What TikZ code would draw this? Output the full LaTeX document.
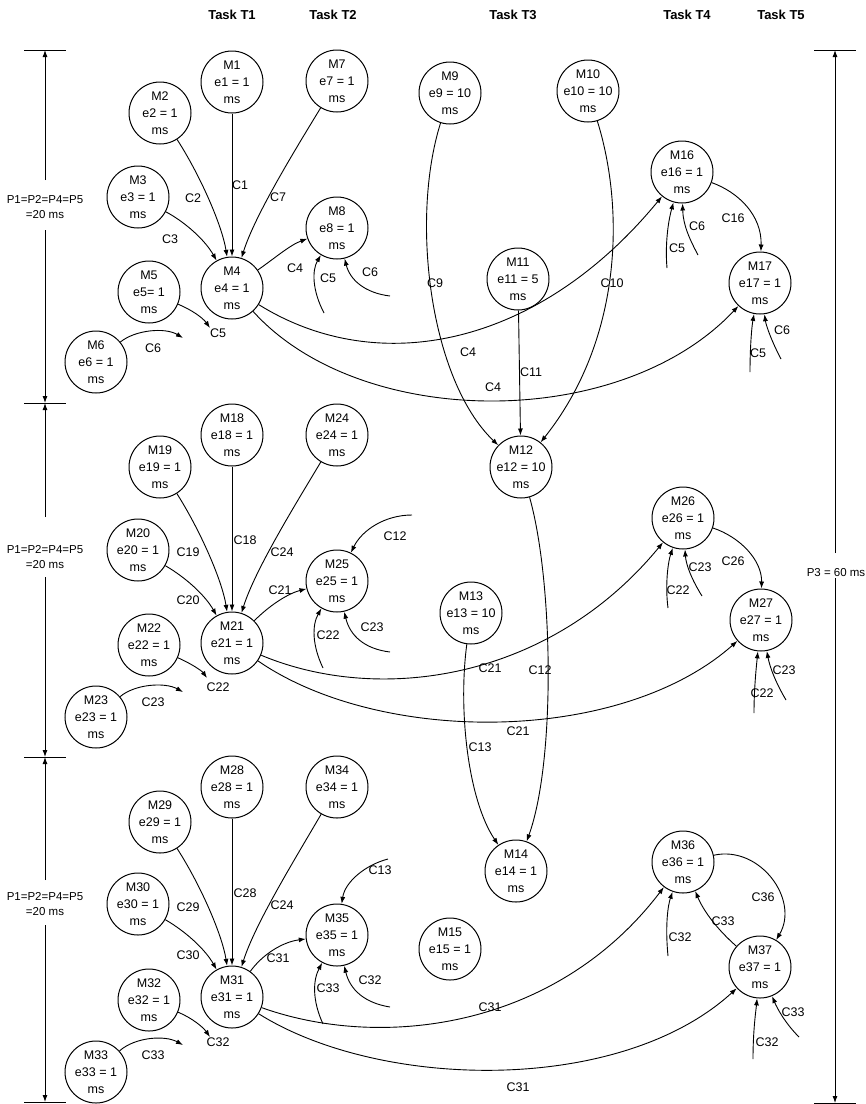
\documentclass[tikz,border=0pt]{standalone}
\usepackage{fontspec}
\setmainfont{Liberation Sans}
\usetikzlibrary{arrows.meta}
\newcommand\mnd[4]{\node[mc] (#1) at (#2) {};\node[mt] (#1t) at (#1) {#3\\#4\\ms};}
\begin{document}
\begin{tikzpicture}[x=1pt,y=-1pt,
  mc/.style={circle,draw,line width=1pt,minimum size=62pt,inner sep=0pt},
  mt/.style={align=center,font=\fontsize{12.5}{17}\selectfont,inner sep=0pt},
  lb/.style={font=\fontsize{12.5}{14}\selectfont,inner sep=0pt},
  dl/.style={font=\fontsize{11.5}{15}\selectfont,inner sep=0pt,align=center},
  tk/.style={font=\bfseries\fontsize{13}{15}\selectfont,inner sep=0pt},
  arr/.style={line width=0.9pt,-{Latex[length=7pt,width=5pt]}},
  ln/.style={line width=0.9pt}]
\useasboundingbox (0,0) rectangle (866,1104);

% task headers
\node[tk] (t1) at (232,15) {Task T1};
\node[tk] (t2) at (333,15) {Task T2};
\node[tk] (t3) at (513,15) {Task T3};
\node[tk] (t4) at (687,15) {Task T4};
\node[tk] (t5) at (781,15) {Task T5};

% nodes
\mnd{m1}{232,82}{M1}{e1 = 1}
\mnd{m2}{160,113}{M2}{e2 = 1}
\mnd{m3}{138,197}{M3}{e3 = 1}
\mnd{m4}{232,288}{M4}{e4 = 1}
\mnd{m5}{149,292}{M5}{e5= 1}
\mnd{m6}{96,362}{M6}{e6 = 1}
\mnd{m7}{337,81}{M7}{e7 = 1}
\mnd{m8}{337,228}{M8}{e8 = 1}
\mnd{m9}{450,93}{M9}{e9 = 10}
\mnd{m10}{588,91}{M10}{e10 = 10}
\mnd{m11}{518,279}{M11}{e11 = 5}
\mnd{m12}{521,467}{M12}{e12 = 10}
\mnd{m13}{471,613}{M13}{e13 = 10}
\mnd{m14}{516,871}{M14}{e14 = 1}
\mnd{m15}{450,949}{M15}{e15 = 1}
\mnd{m16}{682,172}{M16}{e16 = 1}
\mnd{m17}{760,283}{M17}{e17 = 1}
\mnd{m18}{232,435}{M18}{e18 = 1}
\mnd{m19}{160,467}{M19}{e19 = 1}
\mnd{m20}{138,550}{M20}{e20 = 1}
\mnd{m21}{232,643}{M21}{e21 = 1}
\mnd{m22}{149,645}{M22}{e22 = 1}
\mnd{m23}{96,717}{M23}{e23 = 1}
\mnd{m24}{337,435}{M24}{e24 = 1}
\mnd{m25}{337,581}{M25}{e25 = 1}
\mnd{m26}{683,518}{M26}{e26 = 1}
\mnd{m27}{761,620}{M27}{e27 = 1}
\mnd{m28}{232,787}{M28}{e28 = 1}
\mnd{m29}{160,822}{M29}{e29 = 1}
\mnd{m30}{138,904}{M30}{e30 = 1}
\mnd{m31}{232,997}{M31}{e31 = 1}
\mnd{m32}{149,1000}{M32}{e32 = 1}
\mnd{m33}{96,1072}{M33}{e33 = 1}
\mnd{m34}{337,787}{M34}{e34 = 1}
\mnd{m35}{337,935}{M35}{e35 = 1}
\mnd{m36}{683,862}{M36}{e36 = 1}
\mnd{m37}{760,967}{M37}{e37 = 1}

% dimension lines
\foreach \n/\y in {a/50,b/403,c/757,d/1102}{
  \coordinate (dl\n) at (24,\y); \coordinate (dr\n) at (66,\y);
  \draw[ln] (dl\n) -- (dr\n);}
\coordinate (da1) at (45,180); \coordinate (da2) at (45,230);
\coordinate (db1) at (45,517); \coordinate (db2) at (45,577);
\coordinate (dc1) at (45,880); \coordinate (dc2) at (45,925);
\draw[arr] (da1) -- (dla -| da1);
\draw[arr] (da2) -- (dlb -| da2);
\draw[arr] (db1) -- (dlb -| db1);
\draw[arr] (db2) -- (dlc -| db2);
\draw[arr] (dc1) -- (dlc -| dc1);
\draw[arr] (dc2) -- (dld -| dc2);
\node[dl] (pa) at (45,207) {P1=P2=P4=P5\\=20 ms};
\node[dl] (pb) at (45,557) {P1=P2=P4=P5\\=20 ms};
\node[dl] (pc) at (45,904) {P1=P2=P4=P5\\=20 ms};
\coordinate (rt1) at (814,50); \coordinate (rt2) at (856,50);
\coordinate (rb1) at (814,1103); \coordinate (rb2) at (856,1103);
\draw[ln] (rt1) -- (rt2); \draw[ln] (rb1) -- (rb2);
\coordinate (r1) at (835,553); \coordinate (r2) at (835,578);
\draw[arr] (r1) -- (r1 |- rt1);
\draw[arr] (r2) -- (r2 |- rb1);
\node[dl] (p3) at (836,573) {P3 = 60 ms};

% ===== section 1 =====
\draw[arr] (m1) -- (m4);
\draw[arr] (m2) .. controls (200,175) and (222,225) .. (m4);
\draw[arr] (m3) .. controls (185,222) and (205,240) .. (m4);
\draw[arr] (m7) .. controls (295,150) and (255,215) .. (m4);
\draw[arr] (m4) .. controls (275,258) and (290,245) .. (m8);
\coordinate (f1) at (324,313); \coordinate (f2) at (390,296);
\draw[arr] (f1) .. controls (312,290) and (312,270) .. (m8);
\draw[arr] (f2) .. controls (365,293) and (350,280) .. (m8);
\coordinate (g1) at (210,328); \coordinate (g2) at (183,338);
\draw[arr] (m5) .. controls (192,310) and (203,318) .. (g1);
\draw[arr] (m6) .. controls (135,330) and (165,327) .. (g2);
\draw[arr] (m4) .. controls (380,380) and (540,345) .. (m16);
\draw[arr] (m4) .. controls (360,430) and (620,432) .. (m17);
\draw[arr] (m9) .. controls (410,220) and (430,380) .. (m12);
\draw[arr] (m10) .. controls (625,210) and (622,340) .. (m12);
\draw[arr] (m11) -- (m12);
\draw[arr] (m16) .. controls (738,192) and (762,215) .. (m17);
\coordinate (f3) at (667,268); \coordinate (f4) at (698,255);
\coordinate (f5) at (750,372); \coordinate (f6) at (781,359);
\draw[arr] (f3) .. controls (665,245) and (668,222) .. (m16);
\draw[arr] (f4) .. controls (690,240) and (683,225) .. (m16);
\draw[arr] (f5) .. controls (750,345) and (752,325) .. (m17);
\draw[arr] (f6) .. controls (771,340) and (766,325) .. (m17);

\node[lb] (l1) at (240,185) {C1};
\node[lb] (l2) at (193,198) {C2};
\node[lb] (l3) at (170,239) {C3};
\node[lb] (l7) at (278,197) {C7};
\node[lb] (l4a) at (295,268) {C4};
\node[lb] (l5a) at (328,278) {C5};
\node[lb] (l6a) at (370,272) {C6};
\node[lb] (l5b) at (218,333) {C5};
\node[lb] (l6b) at (153,348) {C6};
\node[lb] (l4b) at (468,352) {C4};
\node[lb] (l4c) at (493,387) {C4};
\node[lb] (l9) at (435,283) {C9};
\node[lb] (l10) at (612,283) {C10};
\node[lb] (l11) at (531,372) {C11};
\node[lb] (l16) at (733,218) {C16};
\node[lb] (l5c) at (677,248) {C5};
\node[lb] (l6c) at (697,226) {C6};
\node[lb] (l5d) at (758,353) {C5};
\node[lb] (l6d) at (782,330) {C6};

% ===== section 2 =====
\draw[arr] (m18) -- (m21);
\draw[arr] (m19) .. controls (200,530) and (222,580) .. (m21);
\draw[arr] (m20) .. controls (185,577) and (205,595) .. (m21);
\draw[arr] (m24) .. controls (295,505) and (255,570) .. (m21);
\draw[arr] (m21) .. controls (272,603) and (290,593) .. (m25);
\coordinate (h1) at (412,515); \coordinate (h2) at (323,668); \coordinate (h3) at (390,652);
\draw[arr] (h1) .. controls (385,515) and (362,530) .. (m25);
\draw[arr] (h2) .. controls (312,645) and (312,625) .. (m25);
\draw[arr] (h3) .. controls (365,649) and (350,636) .. (m25);
\coordinate (k1) at (207,678); \coordinate (k2) at (183,692);
\draw[arr] (m22) .. controls (192,664) and (202,671) .. (k1);
\draw[arr] (m23) .. controls (135,684) and (165,682) .. (k2);
\draw[arr] (m21) .. controls (380,705) and (550,680) .. (m26);
\draw[arr] (m21) .. controls (380,745) and (620,745) .. (m27);
\draw[arr] (m12) .. controls (553,580) and (556,760) .. (m14);
\draw[arr] (m13) .. controls (458,710) and (468,800) .. (m14);
\draw[arr] (m26) .. controls (740,537) and (762,560) .. (m27);
\coordinate (h4) at (668,608); \coordinate (h5) at (702,596);
\coordinate (h6) at (754,713); \coordinate (h7) at (786,700);
\draw[arr] (h4) .. controls (665,585) and (668,562) .. (m26);
\draw[arr] (h5) .. controls (692,580) and (686,565) .. (m26);
\draw[arr] (h6) .. controls (754,690) and (756,670) .. (m27);
\draw[arr] (h7) .. controls (776,683) and (770,668) .. (m27);

\node[lb] (l18) at (245,540) {C18};
\node[lb] (l19) at (188,552) {C19};
\node[lb] (l20) at (188,600) {C20};
\node[lb] (l24a) at (282,552) {C24};
\node[lb] (l21a) at (280,590) {C21};
\node[lb] (l12a) at (395,536) {C12};
\node[lb] (l22a) at (328,635) {C22};
\node[lb] (l23a) at (372,627) {C23};
\node[lb] (l22b) at (218,687) {C22};
\node[lb] (l23b) at (153,702) {C23};
\node[lb] (l21b) at (490,668) {C21};
\node[lb] (l21c) at (518,731) {C21};
\node[lb] (l12b) at (540,670) {C12};
\node[lb] (l13a) at (480,747) {C13};
\node[lb] (l26) at (733,561) {C26};
\node[lb] (l22c) at (678,590) {C22};
\node[lb] (l23c) at (700,567) {C23};
\node[lb] (l22d) at (762,693) {C22};
\node[lb] (l23d) at (784,670) {C23};

% ===== section 3 =====
\draw[arr] (m28) -- (m31);
\draw[arr] (m29) .. controls (200,884) and (222,934) .. (m31);
\draw[arr] (m30) .. controls (185,931) and (205,949) .. (m31);
\draw[arr] (m34) .. controls (295,859) and (255,924) .. (m31);
\draw[arr] (m31) .. controls (262,955) and (282,942) .. (m35);
\coordinate (q1) at (388,859); \coordinate (q2) at (323,1024); \coordinate (q3) at (390,1007);
\draw[arr] (q1) .. controls (365,865) and (345,882) .. (m35);
\draw[arr] (q2) .. controls (312,1000) and (313,980) .. (m35);
\draw[arr] (q3) .. controls (365,1003) and (350,990) .. (m35);
\coordinate (s1) at (210,1037); \coordinate (s2) at (183,1045);
\draw[arr] (m32) .. controls (192,1018) and (203,1027) .. (s1);
\draw[arr] (m33) .. controls (135,1037) and (165,1035) .. (s2);
\draw[arr] (m31) .. controls (380,1050) and (555,1030) .. (m36);
\draw[arr] (m31) .. controls (380,1090) and (620,1095) .. (m37);
\draw[arr] (m36) .. controls (760,845) and (800,900) .. (m37);
\draw[arr] (m37) .. controls (718,930) and (704,912) .. (m36);
\coordinate (q4) at (668,956); \coordinate (q5) at (753,1059); \coordinate (q6) at (799,1037);
\draw[arr] (q4) .. controls (665,925) and (668,905) .. (m36);
\draw[arr] (q5) .. controls (753,1030) and (756,1010) .. (m37);
\draw[arr] (q6) .. controls (785,1023) and (777,1008) .. (m37);

\node[lb] (l28) at (245,893) {C28};
\node[lb] (l29) at (188,907) {C29};
\node[lb] (l30) at (188,955) {C30};
\node[lb] (l24b) at (282,905) {C24};
\node[lb] (l31a) at (278,958) {C31};
\node[lb] (l13b) at (380,870) {C13};
\node[lb] (l33a) at (328,988) {C33};
\node[lb] (l32a) at (370,980) {C32};
\node[lb] (l32b) at (218,1042) {C32};
\node[lb] (l33b) at (153,1055) {C33};
\node[lb] (l31b) at (490,1007) {C31};
\node[lb] (l31c) at (518,1087) {C31};
\node[lb] (l36) at (763,897) {C36};
\node[lb] (l33c) at (723,921) {C33};
\node[lb] (l32c) at (680,937) {C32};
\node[lb] (l32d) at (767,1042) {C32};
\node[lb] (l33d) at (793,1012) {C33};
\end{tikzpicture}
\end{document}
